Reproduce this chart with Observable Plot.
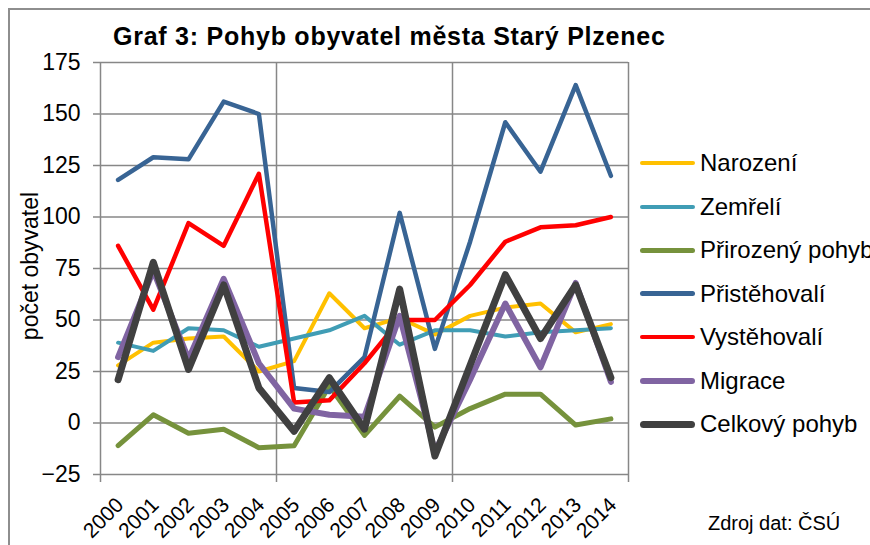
<!DOCTYPE html>
<html><head><meta charset="utf-8">
<script src="https://cdn.jsdelivr.net/npm/d3@7"></script>
<script src="https://cdn.jsdelivr.net/npm/@observablehq/plot@0.6"></script>
<style>
body{margin:0;background:#fff;font-family:"Liberation Sans",Arial,sans-serif;color:#000;}
#wrap{position:relative;width:870px;height:545px;overflow:hidden;background:#fff;}
#frame{position:absolute;left:8px;top:8px;width:950px;height:650px;border-top:2px solid #8e8e8e;border-left:2px solid #8e8e8e;}
#chart{position:absolute;left:0;top:0;}
#title{position:absolute;left:113px;top:24px;font-weight:bold;font-size:25px;line-height:25px;letter-spacing:0.75px;white-space:nowrap;}
#ytitle{position:absolute;left:30px;top:266px;font-size:23px;line-height:23px;white-space:nowrap;transform:translate(-50%,-50%) rotate(-90deg);}
#legend{position:absolute;left:0;top:0;}
.li{position:absolute;left:640px;white-space:nowrap;}
.ln{position:absolute;left:0;width:55px;border-radius:4px;}
.lt{position:absolute;left:60px;font-size:24px;line-height:24px;}
#source{position:absolute;left:708px;top:513px;font-size:20px;line-height:20px;white-space:nowrap;}
</style>
</head><body>
<div id="wrap">
  <div id="frame"></div>
  <div id="chart"></div>
  <div id="title">Graf 3: Pohyb obyvatel města Starý Plzenec</div>
  <div id="ytitle">počet obyvatel</div>
  <div id="legend"></div>
  <div id="source">Zdroj dat: ČSÚ</div>
</div>
<script>
// ---- data ----
const years = [2000,2001,2002,2003,2004,2005,2006,2007,2008,2009,2010,2011,2012,2013,2014];
const narozeni     = [28, 39, 41, 42, 25, 30, 63, 46, 51, 43, 52, 56, 58, 44, 48];
const zemreli      = [39, 35, 46, 45, 37, 41, 45, 52, 38, 45, 45, 42, 44, 45, 46];
const prirozeny    = [-11, 4, -5, -3, -12, -11, 18, -6, 13, -2, 7, 14, 14, -1, 2];
const pristehovali = [118, 129, 128, 156, 150, 17, 15, 32, 102, 36, 88, 146, 122, 164, 120];
const vystehovali  = [86, 55, 97, 86, 121, 10, 11, 29, 50, 50, 67, 88, 95, 96, 100];
const migrace      = [32, 74, 31, 70, 29, 7, 4, 3, 52, -14, 21, 58, 27, 68, 20];
const celkovy      = [21, 78, 26, 67, 17, -4, 22, -3, 65, -16, 28, 72, 41, 67, 22];
const seriesNames  = ["Narození","Zemřelí","Přirozený pohyb","Přistěhovalí","Vystěhovalí","Migrace","Celkový pohyb"];
const seriesValues = [narozeni, zemreli, prirozeny, pristehovali, vystehovali, migrace, celkovy];
const seriesColors = ["#ffc000","#409db5","#76923c","#386494","#ff0000","#8064a2","#404040"];
const seriesWidths = [4, 4, 5, 4.5, 4.5, 6, 7];
const yTicks = [-25, 0, 25, 50, 75, 100, 125, 150, 175];
const xGridYears = [2000, 2005, 2010, 2015];

const rows = [];
seriesNames.forEach((name, s) => {
  years.forEach((yr, i) => rows.push({series: name, x: yr + 0.5, year: yr, value: seriesValues[s][i]}));
});

const grid = "#878787";
const lineMarks = seriesNames.map((name, s) =>
  Plot.line(rows.filter(d => d.series === name), {
    x: "x", y: "value", stroke: seriesColors[s], strokeWidth: seriesWidths[s],
    strokeLinejoin: "round", strokeLinecap: "round"
  })
);

const chart = Plot.plot({
  width: 870, height: 545,
  marginLeft: 100, marginRight: 242, marginTop: 62, marginBottom: 71,
  x: {domain: [2000, 2015]},
  y: {domain: [-25, 175]},
  style: {fontFamily: '"Liberation Sans", Arial, sans-serif', background: "transparent", color: "#000", overflow: "visible"},
  marks: [
    Plot.gridY({ticks: yTicks, stroke: grid, strokeOpacity: 1, strokeWidth: 1.5}),
    Plot.gridX({ticks: xGridYears, stroke: grid, strokeOpacity: 1, strokeWidth: 1.5}),
    Plot.axisY({ticks: yTicks, tickSize: 7, tickPadding: 13, fontSize: 23, stroke: grid, fill: "#000", label: null, strokeWidth: 1.5}),
    Plot.axisX({ticks: xGridYears, tickSize: 8, tickFormat: () => "", stroke: grid, label: null, strokeWidth: 1.5}),
    Plot.axisX({ticks: years.map(y => y + 0.5), tickSize: 0, tickPadding: 27, tickRotate: -45, fontSize: 21, dx: 2,
      tickFormat: d => String(Math.round(d - 0.5)), fill: "#000", label: null}),
    ...lineMarks
  ]
});
document.getElementById("chart").appendChild(chart);

// ---- legend ----
const legend = d3.select("#legend");
seriesNames.forEach((name, s) => {
  const cy = 163 + s * 43.5;
  const item = legend.append("div").attr("class", "li").style("top", cy + "px");
  const w = Math.max(4, seriesWidths[s]);
  item.append("div").attr("class", "ln")
    .style("top", (-w / 2) + "px").style("height", w + "px").style("background", seriesColors[s]);
  item.append("div").attr("class", "lt").style("top", "-11.7px").text(name);
});
</script>
</body></html>
